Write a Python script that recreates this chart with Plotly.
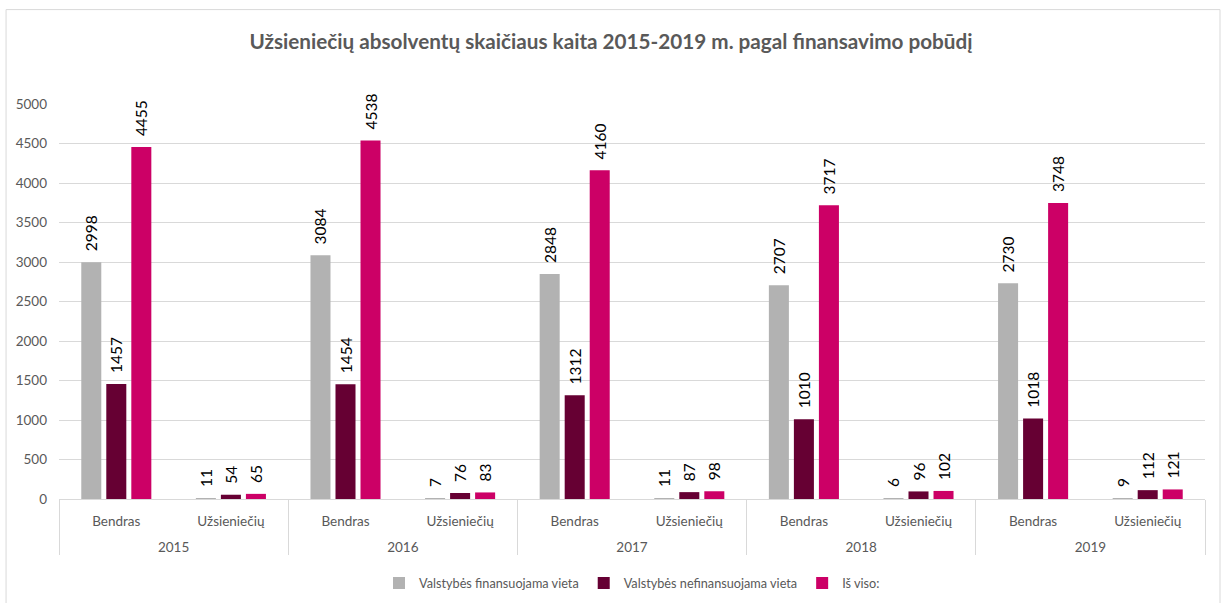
import plotly.graph_objects as go

years = ["2015", "2016", "2017", "2018", "2019"]
groups = ["Bendras", "Užsieniečių"]
series_names = ["Valstybės finansuojama vieta", "Valstybės nefinansuojama vieta", "Iš viso:"]
finansuojama = [2998, 11, 3084, 7, 2848, 11, 2707, 6, 2730, 9]
nefinansuojama = [1457, 54, 1454, 76, 1312, 87, 1010, 96, 1018, 112]
is_viso = [4455, 65, 4538, 83, 4160, 98, 3717, 102, 3748, 121]
colors = ["#B2B2B2", "#660033", "#CC0066"]
title = "Užsieniečių absolventų skaičiaus kaita 2015-2019 m. pagal finansavimo pobūdį"

# year labels sit one line lower, as in the reference
x_years = ["<br>" + y for y in years for _ in groups]
x_groups = [g for _ in years for g in groups]

FONT = "Lato, Calibri, sans-serif"
fig = go.Figure()
for name, vals, col in zip(series_names, [finansuojama, nefinansuojama, is_viso], colors):
    fig.add_trace(go.Bar(
        x=[x_years, x_groups], y=vals, name=name,
        marker=dict(color=col, line=dict(width=0)),
        texttemplate="\u00a0\u00a0%{y}", textposition="outside", constraintext="none",
        textangle=-90, textfont=dict(size=15.5, color="#000000", family=FONT),
        cliponaxis=False,
    ))

fig.update_layout(
    width=1222, height=603,
    paper_bgcolor="white", plot_bgcolor="white",
    barmode="group", bargap=0.345, bargroupgap=0.2,
    margin=dict(l=59, r=17, t=104, b=104, autoexpand=False),
    title=dict(text="<b>" + title + "</b>", x=0.5, xanchor="center", y=0.93, yanchor="middle",
               font=dict(family=FONT, size=20.7, color="#595959")),
    font=dict(family=FONT, size=13, color="#595959"),
    legend=dict(orientation="h", x=0.5, xanchor="center", y=-0.213, yanchor="middle",
                font=dict(size=12.7, color="#595959"), traceorder="normal"),
    yaxis=dict(range=[0, 5000], dtick=500, tickformat="d", gridcolor="#D9D9D9", gridwidth=1,
               showline=False, zeroline=False, ticks="", automargin=False, ticklabelstandoff=11,
               tickfont=dict(size=13.5, color="#595959")),
    xaxis=dict(showline=True, linecolor="#D9D9D9", linewidth=1, ticks="", automargin=False,
               showdividers=True, dividercolor="#D9D9D9", dividerwidth=1, ticklabelstandoff=10,
               tickfont=dict(size=13.5, color="#595959")),
    shapes=[dict(type="rect", xref="paper", yref="paper", x0=-0.0462, x1=1.0131, y0=-0.281, y1=1.239,
                 line=dict(color="#D9D9D9", width=1))],
)

fig.write_html("out.html", config={"displayModeBar": False},
               post_script="document.body.style.margin='0';")
